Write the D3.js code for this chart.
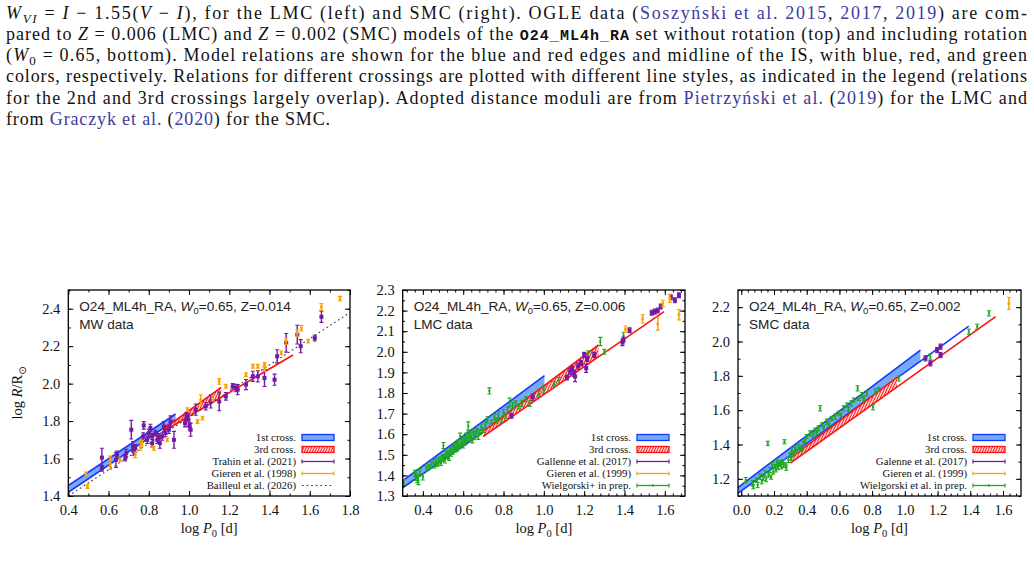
<!DOCTYPE html>
<html><head><meta charset="utf-8">
<script src="https://cdn.jsdelivr.net/npm/d3@7"></script>
<style>
body{margin:0;background:#fff;}
svg{display:block;}
</style></head><body>
<svg id="c" width="1034" height="565"></svg>
<script>
// ---------------- DATA ----------------
// [logP0, logR, err]
const mwTrahin = [[0.567,1.605,0.05],[0.567,1.548,0.015],[0.637,1.593,0.04],[0.642,1.62,0.02],[0.688,1.629,0.02],[0.683,1.602,0.015],[0.713,1.754,0.05],[0.722,1.664,0.027],[0.733,1.655,0.02],[0.725,1.638,0.02],[0.772,1.718,0.02],[0.775,1.777,0.02],[0.792,1.70,0.02],[0.80,1.736,0.02],[0.808,1.763,0.02],[0.817,1.718,0.015],[0.817,1.682,0.02],[0.833,1.736,0.015],[0.842,1.70,0.02],[0.85,1.718,0.015],[0.855,1.682,0.027],[0.867,1.718,0.02],[0.875,1.771,0.027],[0.883,1.736,0.02],[0.90,1.754,0.02],[0.908,1.798,0.03],[0.925,1.70,0.045],[0.98,1.789,0.02],[0.987,1.825,0.02],[0.997,1.807,0.035],[1.003,1.771,0.02],[1.008,1.754,0.035],[1.033,1.861,0.03],[1.083,1.879,0.02],[1.108,1.905,0.035],[1.15,1.905,0.05],[1.183,1.932,0.02],[1.217,1.986,0.015],[1.233,1.977,0.02],[1.242,1.968,0.027],[1.283,1.995,0.027],[1.317,2.039,0.027],[1.342,2.039,0.03],[1.375,2.03,0.045],[1.425,2.021,0.03],[1.438,2.146,0.035],[1.483,2.218,0.05],[1.538,2.262,0.05],[1.555,2.20,0.035],[1.625,2.243,0.015],[1.658,2.357,0.03]];
const mwGieren = [[0.488,1.518,0.01],[0.495,1.45,0.01],[0.608,1.593,0.02],[0.608,1.557,0.015],[0.658,1.593,0.01],[0.733,1.62,0.015],[0.758,1.664,0.02],[0.767,1.682,0.015],[0.825,1.655,0.01],[0.892,1.70,0.01],[0.992,1.861,0.01],[1.042,1.798,0.01],[1.058,1.914,0.027],[1.067,1.816,0.01],[1.117,1.923,0.015],[1.15,2.012,0.015],[1.183,1.986,0.01],[1.283,2.048,0.01],[1.317,2.093,0.01],[1.342,2.093,0.01],[1.375,2.102,0.01],[1.375,2.075,0.01],[1.458,2.164,0.01],[1.483,2.227,0.018],[1.538,2.271,0.018],[1.558,2.296,0.015],[1.592,2.227,0.01],[1.658,2.409,0.018],[1.75,2.454,0.012]];
const lmcGallenne = [[0.84,1.69,0.012],[0.945,1.78,0.015],[1.115,1.875,0.012],[1.13,1.905,0.015],[1.14,1.92,0.012],[1.15,1.895,0.015],[1.155,1.88,0.025],[1.17,1.93,0.015],[1.185,1.945,0.012],[1.20,1.985,0.012],[1.21,1.92,0.02],[1.215,1.965,0.012],[1.25,1.985,0.012],[1.39,2.045,0.015],[1.395,2.06,0.012],[1.425,2.105,0.012],[1.535,2.19,0.012],[1.55,2.195,0.012],[1.565,2.20,0.012],[1.58,2.22,0.012],[1.63,2.265,0.012],[1.65,2.25,0.012],[1.67,2.275,0.012]];
const lmcGieren = [[1.405,2.11,0.015],[1.49,2.16,0.02],[1.565,2.135,0.03],[1.59,2.235,0.015],[1.625,2.26,0.02],[1.67,2.18,0.025]];
const lmcWielgorski = [[0.305,1.365,0.015],[0.36,1.41,0.015],[0.365,1.395,0.02],[0.372,1.385,0.02],[0.378,1.375,0.02],[0.385,1.418,0.015],[0.40,1.393,0.015],[0.418,1.432,0.012],[0.43,1.44,0.012],[0.44,1.45,0.015],[0.452,1.462,0.015],[0.458,1.448,0.012],[0.465,1.47,0.015],[0.47,1.455,0.012],[0.478,1.465,0.015],[0.485,1.478,0.012],[0.49,1.46,0.012],[0.497,1.482,0.015],[0.502,1.545,0.015],[0.505,1.49,0.012],[0.51,1.475,0.015],[0.515,1.505,0.012],[0.52,1.495,0.015],[0.527,1.51,0.012],[0.53,1.485,0.012],[0.535,1.52,0.015],[0.54,1.505,0.012],[0.545,1.53,0.015],[0.55,1.515,0.012],[0.555,1.54,0.015],[0.56,1.525,0.012],[0.565,1.545,0.015],[0.57,1.53,0.012],[0.575,1.555,0.015],[0.58,1.54,0.012],[0.585,1.59,0.015],[0.59,1.55,0.012],[0.595,1.565,0.015],[0.60,1.545,0.012],[0.605,1.575,0.015],[0.61,1.56,0.012],[0.615,1.59,0.015],[0.62,1.575,0.012],[0.625,1.64,0.02],[0.628,1.60,0.015],[0.632,1.58,0.012],[0.638,1.595,0.015],[0.645,1.57,0.012],[0.65,1.61,0.015],[0.655,1.585,0.012],[0.66,1.60,0.015],[0.668,1.615,0.012],[0.675,1.59,0.015],[0.682,1.61,0.012],[0.69,1.635,0.015],[0.70,1.62,0.012],[0.71,1.645,0.015],[0.72,1.67,0.015],[0.73,1.81,0.015],[0.74,1.655,0.012],[0.755,1.685,0.015],[0.765,1.665,0.012],[0.775,1.695,0.015],[0.79,1.67,0.012],[0.80,1.705,0.015],[0.81,1.69,0.012],[0.82,1.715,0.015],[0.83,1.755,0.02],[0.845,1.74,0.015],[0.86,1.75,0.012],[0.875,1.735,0.012],[0.89,1.75,0.015],[0.91,1.77,0.012],[0.93,1.75,0.015],[0.975,1.795,0.015],[1.00,1.815,0.015],[1.05,1.845,0.012],[1.075,1.86,0.015],[1.22,1.99,0.015],[1.28,2.05,0.02],[1.30,2.00,0.012],[1.395,2.08,0.015]];
const smcGalenne = [[1.126,1.902,0.015],[1.156,1.873,0.015],[1.197,1.95,0.015],[1.218,1.97,0.015],[1.218,1.921,0.015]];
const smcGieren = [[1.636,2.222,0.035]];
const smcWielgorski = [[0.027,1.193,0.015],[0.068,1.174,0.015],[0.074,1.154,0.012],[0.094,1.193,0.012],[0.10,1.164,0.015],[0.115,1.213,0.015],[0.125,1.183,0.012],[0.135,1.203,0.012],[0.145,1.232,0.015],[0.152,1.195,0.012],[0.162,1.407,0.012],[0.166,1.222,0.012],[0.176,1.251,0.015],[0.182,1.21,0.012],[0.19,1.281,0.015],[0.196,1.24,0.012],[0.207,1.271,0.012],[0.212,1.255,0.015],[0.217,1.30,0.015],[0.225,1.265,0.012],[0.232,1.285,0.012],[0.237,1.29,0.015],[0.245,1.27,0.012],[0.252,1.30,0.012],[0.258,1.281,0.015],[0.264,1.416,0.012],[0.27,1.28,0.012],[0.275,1.265,0.015],[0.288,1.31,0.015],[0.299,1.339,0.012],[0.305,1.32,0.012],[0.309,1.368,0.015],[0.318,1.345,0.012],[0.329,1.378,0.015],[0.338,1.36,0.012],[0.35,1.387,0.015],[0.36,1.37,0.012],[0.37,1.378,0.015],[0.38,1.407,0.012],[0.39,1.426,0.015],[0.40,1.446,0.012],[0.421,1.465,0.015],[0.44,1.455,0.012],[0.452,1.484,0.012],[0.462,1.47,0.012],[0.472,1.494,0.015],[0.482,1.611,0.015],[0.493,1.514,0.012],[0.505,1.50,0.012],[0.523,1.533,0.015],[0.535,1.52,0.012],[0.554,1.552,0.012],[0.574,1.562,0.015],[0.595,1.582,0.012],[0.61,1.57,0.012],[0.625,1.611,0.015],[0.646,1.63,0.012],[0.655,1.605,0.012],[0.672,1.64,0.015],[0.687,1.659,0.012],[0.711,1.727,0.015],[0.717,1.669,0.012],[0.738,1.688,0.015],[0.75,1.67,0.012],[0.768,1.698,0.015],[0.805,1.617,0.015],[0.82,1.708,0.015],[0.84,1.72,0.012],[0.962,1.785,0.015],[1.156,1.912,0.015],[1.391,2.057,0.015],[1.442,2.086,0.015],[1.514,2.164,0.015]];

// model relations (polygons / segments in data units)
const mwBand1 = [[0.38,1.441],[0.933,1.838],[0.933,1.806],[0.38,1.405]];
const mwBlueLines = [[[0.38,1.441],[0.933,1.838]],[[0.38,1.405],[0.933,1.806]]];
const mwBand3 = [[0.87,1.755],[1.16,1.98],[1.16,1.927],[0.87,1.743]];
const mwRedLines = [[[0.87,1.755],[1.16,1.98]],[[0.87,1.743],[1.517,2.153]]];
const mwBailleul = [[0.4,1.40],[1.8,2.38]];
const lmcBand1 = [[0.28,1.36],[1.003,1.884],[1.003,1.815],[0.28,1.326]];
const lmcBlueLines = [[[0.28,1.36],[1.003,1.884]],[[0.28,1.326],[1.003,1.815]]];
const lmcBand3 = [[0.70,1.615],[1.271,2.033],[1.271,1.975],[0.70,1.589]];
const lmcRedLines = [[[0.70,1.615],[1.271,2.033]],[[0.698,1.588],[1.596,2.195]]];
const smcBand1 = [[-0.03,1.143],[1.095,1.95],[1.095,1.886],[-0.03,1.109]];
const smcBlueLines = [[[-0.03,1.143],[1.095,1.95]],[[-0.03,1.109],[1.391,2.09]]];
const smcBand3 = [[0.30,1.32],[0.952,1.791],[0.952,1.735],[0.30,1.292]];
const smcRedLines = [[[0.30,1.32],[0.952,1.791]],[[0.30,1.292],[1.555,2.145]]];

const mwXTicks = [0.4,0.6,0.8,1.0,1.2,1.4,1.6,1.8];
const mwYTicks = [1.4,1.6,1.8,2.0,2.2,2.4];
const lmcXTicks = [0.4,0.6,0.8,1.0,1.2,1.4,1.6];
const lmcYTicks = [1.3,1.4,1.5,1.6,1.7,1.8,1.9,2.0,2.1,2.2,2.3];
const smcXTicks = [0.0,0.2,0.4,0.6,0.8,1.0,1.2,1.4,1.6];
const smcYTicks = [1.2,1.4,1.6,1.8,2.0,2.2];

const mwLegend = ["1st cross.","3rd cross.","Trahin et al. (2021)","Gieren et al. (1998)","Bailleul et al. (2026)"];
const lmcLegend = ["1st cross.","3rd cross.","Gallenne et al. (2017)","Gieren et al. (1999)","Wielgorski+ in prep."];
const smcLegend = ["1st cross.","3rd cross.","Galenne et al. (2017)","Gieren et al. (1999)","Wielgorski et al. in prep."];

// ---------------- STYLE ----------------
const PURPLE = "#7419a3", ORANGE = "#ffa000", GREEN = "#1ea81e";
const BLUE = "#1438ff", BLUEFILL = "#76aaf7", RED = "#ff1010";
const LINK = "#3c3ca0";
const SERIF = "'Liberation Serif', 'Times New Roman', serif";
const SANS = "'Liberation Sans', Arial, sans-serif";

const svg = d3.select("#c");
const defs = svg.append("defs");
const pat = defs.append("pattern").attr("id","hatch").attr("patternUnits","userSpaceOnUse")
  .attr("width",2.4).attr("height",2.4).attr("patternTransform","rotate(25)");
pat.append("rect").attr("width",2.4).attr("height",2.4).attr("fill","#fff");
pat.append("line").attr("x1",1.2).attr("y1",0).attr("x2",1.2).attr("y2",2.4).attr("stroke",RED).attr("stroke-width",1.15);

// ---------------- CAPTION ----------------
const caption = [
 [["W","i"],["VI","isub"],[" = ","n"],["I","i"],[" − 1.55(","n"],["V","i"],[" − ","n"],["I","i"],["), for the LMC (left) and SMC (right).  OGLE data (","n"],["Soszyński et al. 2015","link"],[", ","n"],["2017","link"],[", ","n"],["2019","link"],[") are com-","n"]],
 [["pared to ","n"],["Z","i"],[" = 0.006 (LMC) and ","n"],["Z","i"],[" = 0.002 (SMC) models of the ","n"],["O24_ML4h_RA","mono"],[" set without rotation (top) and including rotation","n"]],
 [["(","n"],["W","i"],["0","sub"],[" = 0.65, bottom).  Model relations are shown for the blue and red edges and midline of the IS, with blue, red, and green","n"]],
 [["colors, respectively.  Relations for different crossings are plotted with different line styles, as indicated in the legend (relations","n"]],
 [["for the 2nd and 3rd crossings largely overlap).  Adopted distance moduli are from ","n"],["Pietrzyński et al.","link"],[" (","n"],["2019","link"],[") for the LMC and","n"]],
 [["from ","n"],["Graczyk et al.","link"],[" (","n"],["2020","link"],[") for the SMC.","n"]]
];
const capBase = [18.5, 39.8, 61.1, 82.4, 103.7, 125];
const capFS = 18;
caption.forEach((segs, i) => {
  const t = svg.append("text").attr("x", 6).attr("y", capBase[i])
    .attr("font-family", SERIF).attr("font-size", capFS).attr("fill", "#111")
    .attr("textLength", i < 5 ? 1021 : 324).attr("lengthAdjust", "spacing");
  let shifted = 0;
  segs.forEach(([s, st]) => {
    const ts = t.append("tspan").text(s);
    const isSub = st === "sub" || st === "isub";
    if (isSub && !shifted) { ts.attr("dy", 4).attr("font-size", capFS*0.72); shifted = 4; }
    else if (isSub) { ts.attr("font-size", capFS*0.72); }
    else if (shifted) { ts.attr("dy", -shifted); shifted = 0; }
    if (st === "i" || st === "isub") ts.attr("font-style", "italic");
    if (st === "link") ts.attr("fill", LINK);
    if (st === "mono") ts.attr("font-family", "'Liberation Mono', 'DejaVu Sans Mono', monospace").attr("font-weight", "bold").attr("font-size", 15);
  });
});

// ---------------- PANELS ----------------
const panels = [
 {id:"mw", left:68.3, right:350, xDom:[0.4,1.8], yDom:[1.4,2.5], xT:mwXTicks, yT:mwYTicks, xMinStep:0.1, yMinStep:0.1,
  band1:mwBand1, blue:mwBlueLines, band3:mwBand3, red:mwRedLines, extra:mwBailleul,
  sets:[{d:mwTrahin,c:PURPLE,m:"sq"},{d:mwGieren,c:ORANGE,m:"sm"}],
  legend:mwLegend, legKinds:["b1","b3",PURPLE,ORANGE,"dot"], Z:"0.014", sub:"MW data", ylabel:true},
 {id:"lmc", left:402.7, right:685, xDom:[0.3,1.7], yDom:[1.3,2.3], xT:lmcXTicks, yT:lmcYTicks, xMinStep:0.04, yMinStep:0.05,
  band1:lmcBand1, blue:lmcBlueLines, band3:lmcBand3, red:lmcRedLines,
  sets:[{d:lmcWielgorski,c:GREEN,m:"g"},{d:lmcGallenne,c:PURPLE,m:"sq"},{d:lmcGieren,c:ORANGE,m:"sm"}],
  legend:lmcLegend, legKinds:["b1","b3",PURPLE,ORANGE,GREEN], Z:"0.006", sub:"LMC data"},
 {id:"smc", left:738, right:1021, xDom:[-0.02,1.71], yDom:[1.1,2.3], xT:smcXTicks, yT:smcYTicks, xMinStep:0.04, yMinStep:0.1,
  band1:smcBand1, blue:smcBlueLines, band3:smcBand3, red:smcRedLines,
  sets:[{d:smcWielgorski,c:GREEN,m:"g"},{d:smcGalenne,c:PURPLE,m:"sq"},{d:smcGieren,c:ORANGE,m:"sm"}],
  legend:smcLegend, legKinds:["b1","b3",PURPLE,ORANGE,GREEN], Z:"0.002", sub:"SMC data"}
];
const TOP = 290, BOTTOM = 496;
const fmt = d3.format(".1f");

function minorTicks(dom, step) {
  const out = [];
  const start = Math.ceil(dom[0] / step - 1e-6);
  const end = Math.floor(dom[1] / step + 1e-6);
  for (let k = start; k <= end; k++) out.push(+(k * step).toFixed(4));
  return out;
}

panels.forEach(p => {
  const x = d3.scaleLinear().domain(p.xDom).range([p.left, p.right]);
  const y = d3.scaleLinear().domain(p.yDom).range([BOTTOM, TOP]);
  const g = svg.append("g");
  defs.append("clipPath").attr("id","clip-"+p.id).append("rect")
    .attr("x",p.left).attr("y",TOP).attr("width",p.right-p.left).attr("height",BOTTOM-TOP);
  const pg = g.append("g").attr("clip-path","url(#clip-"+p.id+")");
  const line = d3.line().x(d=>x(d[0])).y(d=>y(d[1]));

  pg.append("path").attr("d", line(p.band1)+"Z").attr("fill",BLUEFILL).attr("stroke","none");
  p.blue.forEach(s => pg.append("path").attr("d",line(s)).attr("stroke",BLUE).attr("stroke-width",1.6).attr("fill","none"));
  pg.append("path").attr("d", line(p.band3)+"Z").attr("fill","url(#hatch)").attr("stroke","none");
  p.red.forEach(s => pg.append("path").attr("d",line(s)).attr("stroke",RED).attr("stroke-width",1.6).attr("fill","none"));
  if (p.extra) pg.append("path").attr("d",line(p.extra)).attr("stroke","#333").attr("stroke-width",1.1)
     .attr("stroke-dasharray","1.6,3").attr("fill","none");

  p.sets.forEach(set => {
    const sg = pg.append("g").attr("stroke", set.c).attr("fill", set.c);
    const w = set.m === "sq" ? 1.4 : set.m === "sm" ? 1.5 : 1.3;
    const cap = 2;
    sg.selectAll("line.v").data(set.d).join("line").attr("class","v")
      .attr("x1",d=>x(d[0])).attr("x2",d=>x(d[0])).attr("y1",d=>y(d[1]-d[2])).attr("y2",d=>y(d[1]+d[2])).attr("stroke-width",w);
    sg.selectAll("line.t").data(set.d).join("line").attr("class","t")
      .attr("x1",d=>x(d[0])-cap).attr("x2",d=>x(d[0])+cap).attr("y1",d=>y(d[1]+d[2])).attr("y2",d=>y(d[1]+d[2])).attr("stroke-width",1.1);
    sg.selectAll("line.b").data(set.d).join("line").attr("class","b")
      .attr("x1",d=>x(d[0])-cap).attr("x2",d=>x(d[0])+cap).attr("y1",d=>y(d[1]-d[2])).attr("y2",d=>y(d[1]-d[2])).attr("stroke-width",1.1);
    const ms = set.m === "sq" ? 4 : set.m === "sm" ? 2.6 : 2;
    sg.selectAll("rect").data(set.d).join("rect")
      .attr("x",d=>x(d[0])-ms/2).attr("y",d=>y(d[1])-ms/2).attr("width",ms).attr("height",ms).attr("stroke","none");
  });

  // axes
  const xm = minorTicks(p.xDom, p.xMinStep);
  const ym = minorTicks(p.yDom, p.yMinStep);
  const styleAxis = sel => { sel.select(".domain").remove(); sel.selectAll("line").attr("stroke","#000").attr("stroke-width",1);
    sel.selectAll("text").attr("font-family",SERIF).attr("font-size",14.5).attr("fill","#111"); };
  g.append("g").attr("transform",`translate(0,${BOTTOM})`).call(d3.axisBottom(x).tickValues(p.xT).tickSize(-5).tickPadding(9).tickFormat(fmt)).call(styleAxis);
  g.append("g").attr("transform",`translate(0,${BOTTOM})`).call(d3.axisBottom(x).tickValues(xm).tickSize(-2.5).tickFormat("")).call(styleAxis);
  g.append("g").attr("transform",`translate(0,${TOP})`).call(d3.axisTop(x).tickValues(p.xT).tickSize(-5).tickFormat("")).call(styleAxis);
  g.append("g").attr("transform",`translate(0,${TOP})`).call(d3.axisTop(x).tickValues(xm).tickSize(-2.5).tickFormat("")).call(styleAxis);
  g.append("g").attr("transform",`translate(${p.left},0)`).call(d3.axisLeft(y).tickValues(p.yT).tickSize(-5).tickPadding(8).tickFormat(fmt)).call(styleAxis);
  g.append("g").attr("transform",`translate(${p.left},0)`).call(d3.axisLeft(y).tickValues(ym).tickSize(-2.5).tickFormat("")).call(styleAxis);
  g.append("g").attr("transform",`translate(${p.right},0)`).call(d3.axisRight(y).tickValues(p.yT).tickSize(-5).tickFormat("")).call(styleAxis);
  g.append("g").attr("transform",`translate(${p.right},0)`).call(d3.axisRight(y).tickValues(ym).tickSize(-2.5).tickFormat("")).call(styleAxis);

  g.append("rect").attr("x",p.left).attr("y",TOP).attr("width",p.right-p.left).attr("height",BOTTOM-TOP)
    .attr("fill","none").attr("stroke","#000").attr("stroke-width",1.3);

  // title
  const t1 = g.append("text").attr("x",p.left+11).attr("y",TOP+21).attr("font-family",SANS).attr("font-size",13.6).attr("fill","#222");
  t1.append("tspan").text("O24_ML4h_RA, ");
  t1.append("tspan").text("W").attr("font-style","italic");
  t1.append("tspan").text("0").attr("font-size",9.5).attr("dy",3);
  t1.append("tspan").text("=0.65, Z=" + p.Z).attr("dy",-3);
  g.append("text").attr("x",p.left+11).attr("y",TOP+38.5).attr("font-family",SANS).attr("font-size",13.6).attr("fill","#222").text(p.sub);

  // x label
  const xl = g.append("text").attr("x",(p.left+p.right)/2).attr("y",533).attr("text-anchor","middle")
    .attr("font-family",SERIF).attr("font-size",14.5).attr("fill","#111");
  xl.append("tspan").text("log ");
  xl.append("tspan").text("P").attr("font-style","italic");
  xl.append("tspan").text("0").attr("font-size",10.5).attr("dy",4);
  xl.append("tspan").text(" [d]").attr("dy",-4);

  if (p.ylabel) {
    const yl = g.append("text").attr("transform","translate(22,393) rotate(-90)").attr("text-anchor","middle")
      .attr("font-family",SERIF).attr("font-size",14.5).attr("fill","#111");
    yl.append("tspan").text("log ");
    yl.append("tspan").text("R").attr("font-style","italic");
    yl.append("tspan").text("/R");
    yl.append("tspan").text("⊙").attr("font-size",10).attr("dy",4).attr("font-family","'DejaVu Sans'");
  }

  // legend
  const rowsY = [437.5, 449.5, 461.5, 473.5, 485.5];
  const tx = p.right - 54, s0 = p.right - 48, s1 = p.right - 16;
  p.legend.forEach((lab, i) => {
    const ry = rowsY[i];
    g.append("text").attr("x",tx).attr("y",ry+3.8).attr("text-anchor","end").attr("font-family",SERIF)
      .attr("font-size",10.8).attr("fill","#111").text(lab);
    const k = p.legKinds[i];
    if (k === "b1") {
      g.append("rect").attr("x",s0).attr("y",ry-3).attr("width",s1-s0).attr("height",6).attr("fill",BLUEFILL).attr("stroke",BLUE).attr("stroke-width",1.3);
    } else if (k === "b3") {
      g.append("rect").attr("x",s0).attr("y",ry-3).attr("width",s1-s0).attr("height",6).attr("fill","url(#hatch)").attr("stroke",RED).attr("stroke-width",1.3);
    } else if (k === "dot") {
      g.append("line").attr("x1",s0).attr("x2",s1).attr("y1",ry).attr("y2",ry).attr("stroke","#333").attr("stroke-width",1.1).attr("stroke-dasharray","1.6,3");
    } else {
      g.append("line").attr("x1",s0).attr("x2",s1).attr("y1",ry).attr("y2",ry).attr("stroke",k).attr("stroke-width",1.3);
      [s0,s1].forEach(sx => g.append("line").attr("x1",sx).attr("x2",sx).attr("y1",ry-2).attr("y2",ry+2).attr("stroke",k).attr("stroke-width",1.2));
      if (k === GREEN) g.append("rect").attr("x",(s0+s1)/2-1).attr("y",ry-1).attr("width",2).attr("height",2).attr("fill",k);
    }
  });
});
</script></body></html>
